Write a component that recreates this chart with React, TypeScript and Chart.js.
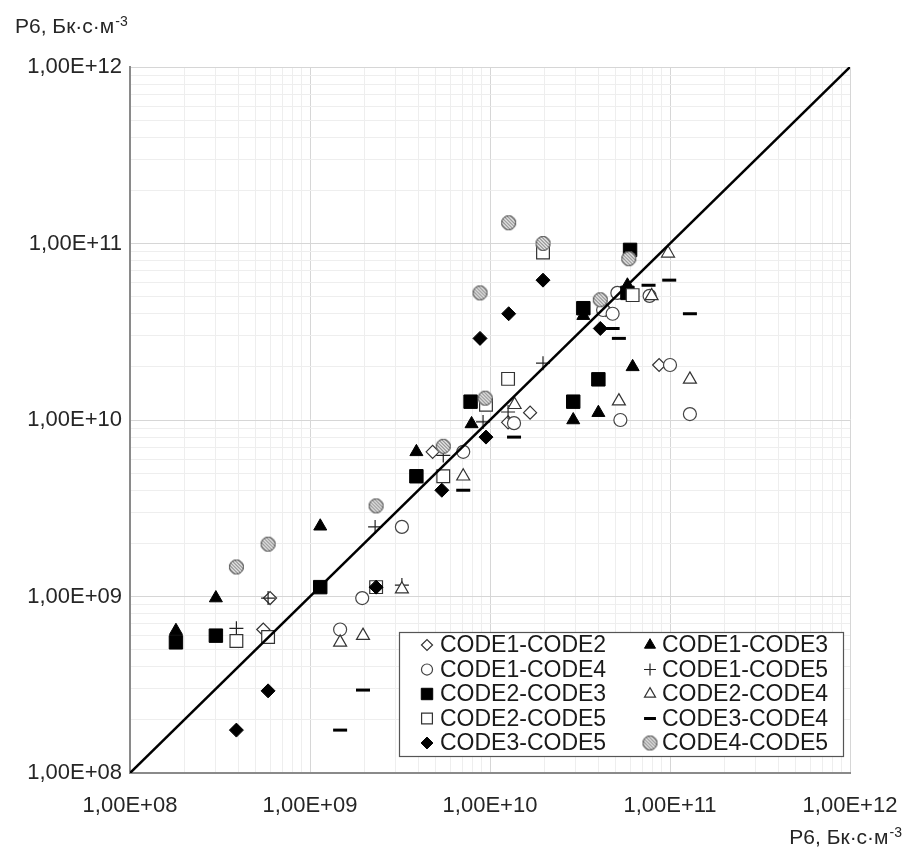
import React, { useEffect, useRef } from 'react';
import { Chart, registerables } from 'chart.js';
import { drawPoint } from 'chart.js/helpers';

Chart.register(...registerables);

// ---------- data ----------
const seriesNames = [
  'CODE1-CODE2', 'CODE1-CODE3',
  'CODE1-CODE4', 'CODE1-CODE5',
  'CODE2-CODE3', 'CODE2-CODE4',
  'CODE2-CODE5', 'CODE3-CODE4',
  'CODE3-CODE5', 'CODE4-CODE5',
];

const code1Code2: [number, number][] = [
  [6.0e8, 9.8e8], [5.5e8, 6.5e8], [4.8e9, 6.6e9], [1.26e10, 9.7e9],
  [1.67e10, 1.1e10], [8.7e10, 2.05e10], [4.4e10, 4.2e10],
];
const code1Code3: [number, number][] = [
  [1.8e8, 6.4e8], [3.0e8, 9.8e8], [1.14e9, 2.5e9], [3.9e9, 6.6e9],
  [7.9e9, 9.5e9], [2.9e10, 1.0e10], [4.0e10, 1.1e10], [6.2e10, 2.0e10],
  [3.3e10, 3.9e10], [5.8e10, 5.8e10],
];
const code1Code4: [number, number][] = [
  [3.24e9, 2.48e9], [1.95e9, 9.8e8], [1.47e9, 6.5e8], [7.1e9, 6.6e9],
  [1.36e10, 9.6e9], [5.3e10, 1.0e10], [1.0e11, 2.05e10], [1.29e11, 1.08e10],
  [4.25e10, 4.2e10], [4.8e10, 4.0e10], [5.1e10, 5.25e10], [7.7e10, 5.05e10],
];
const code1Code5: [number, number][] = [
  [3.9e8, 6.6e8], [5.85e8, 9.8e8], [2.3e9, 2.48e9], [3.24e9, 1.16e9],
  [5.5e9, 6.3e9], [9.15e9, 9.75e9], [1.26e10, 1.11e10], [1.97e10, 2.1e10],
];
const code2Code3: [number, number][] = [
  [1.8e8, 5.5e8], [3.0e8, 6.0e8], [1.14e9, 1.13e9], [3.9e9, 4.8e9],
  [7.8e9, 1.27e10], [2.9e10, 1.27e10], [4.0e10, 1.7e10], [3.3e10, 4.3e10],
  [5.8e10, 5.25e10], [6.0e10, 9.2e10],
];
const code2Code4: [number, number][] = [
  [1.47e9, 5.5e8], [1.97e9, 6.0e8], [3.24e9, 1.1e9], [7.1e9, 4.8e9],
  [1.37e10, 1.22e10], [5.2e10, 1.28e10], [1.29e11, 1.7e10], [9.75e10, 8.8e10],
  [7.9e10, 5.05e10],
];
const code2Code5: [number, number][] = [
  [3.9e8, 5.6e8], [5.85e8, 5.9e8], [2.33e9, 1.13e9], [5.5e9, 4.8e9],
  [9.5e9, 1.22e10], [1.26e10, 1.71e10], [1.97e10, 8.9e10], [6.2e10, 5.1e10],
];
const code3Code4: [number, number][] = [
  [1.97e9, 2.95e8], [1.47e9, 1.75e8], [7.1e9, 4.0e9], [1.36e10, 8.0e9],
  [4.8e10, 3.3e10], [5.2e10, 2.9e10], [7.6e10, 5.8e10], [9.9e10, 6.2e10],
  [1.29e11, 4.0e10],
];
const code3Code5: [number, number][] = [
  [5.85e8, 2.92e8], [3.9e8, 1.75e8], [2.33e9, 1.13e9], [5.4e9, 4.0e9],
  [9.5e9, 8.0e9], [8.8e9, 2.9e10], [1.27e10, 4.0e10], [1.97e10, 6.2e10],
  [4.1e10, 3.3e10],
];
const code4Code5: [number, number][] = [
  [3.9e8, 1.47e9], [5.85e8, 1.98e9], [2.33e9, 3.26e9], [5.5e9, 7.1e9],
  [9.4e9, 1.33e10], [8.8e9, 5.25e10], [1.27e10, 1.31e11], [1.97e10, 1.0e11],
  [4.1e10, 4.8e10], [5.9e10, 8.2e10],
];

const seriesData = [
  code1Code2, code1Code3, code1Code4, code1Code5, code2Code3,
  code2Code4, code2Code5, code3Code4, code3Code5, code4Code5,
];

const decades = [1e8, 1e9, 1e10, 1e11, 1e12];
const decadeLabels = ['1,00E+08', '1,00E+09', '1,00E+10', '1,00E+11', '1,00E+12'];
const minorMultipliers = [1, 2, 3, 4, 5, 6, 7, 8, 9];
const lineX = [1e8, 1e12];
const lineY = [1e8, 1e12];
const unitText = 'P6, Бк·с·м';
const unitSup = '-3';

const FONT = '"Liberation Sans", Arial, sans-serif';

function makeHatched(r: number): HTMLCanvasElement {
  const size = Math.ceil(r * 2 + 2);
  const c = document.createElement('canvas');
  c.width = size;
  c.height = size;
  const g = c.getContext('2d')!;
  const cx = size / 2;
  g.beginPath();
  g.arc(cx, cx, r, 0, Math.PI * 2);
  g.fillStyle = '#767676';
  g.fill();
  g.save();
  g.clip();
  g.strokeStyle = '#ffffff';
  g.lineWidth = 1.3;
  for (let k = -size; k < size * 2; k += 3.4) {
    g.beginPath();
    g.moveTo(k, 0);
    g.lineTo(k + size, size);
    g.stroke();
  }
  g.restore();
  g.beginPath();
  g.arc(cx, cx, r - 0.5, 0, Math.PI * 2);
  g.strokeStyle = '#4a4a4a';
  g.lineWidth = 1;
  g.stroke();
  return c;
}

function buildTicks() {
  const out: number[] = [];
  for (let i = 0; i < decades.length - 1; i++) {
    for (const m of minorMultipliers) out.push(decades[i] * m);
  }
  out.push(decades[decades.length - 1]);
  return out;
}

function isDecade(v: number) {
  return decades.some((d) => Math.abs(v - d) / d < 1e-9);
}

function labelFor(v: number) {
  const i = decades.findIndex((d) => Math.abs(v - d) / d < 1e-9);
  return i >= 0 ? decadeLabels[i] : '';
}

function drawUnit(ctx: CanvasRenderingContext2D, x: number, y: number, alignRight: boolean) {
  ctx.font = `21px ${FONT}`;
  const w1 = ctx.measureText(unitText).width;
  ctx.font = `14px ${FONT}`;
  const w2 = ctx.measureText(unitSup).width;
  const sx = alignRight ? x - w1 - w2 - 1 : x;
  ctx.fillStyle = '#262626';
  ctx.textAlign = 'left';
  ctx.textBaseline = 'alphabetic';
  ctx.font = `21px ${FONT}`;
  ctx.fillText(unitText, sx, y);
  ctx.font = `14px ${FONT}`;
  ctx.fillText(unitSup, sx + w1 + 1, y - 7);
}

export default function App() {
  const ref = useRef<HTMLCanvasElement>(null);

  useEffect(() => {
    if (!ref.current) return;
    const hatched = makeHatched(7.5);

    const styles: any[] = [
      { pointStyle: 'rectRot', pointRadius: 6.5, pointBackgroundColor: '#fff', pointBorderColor: '#333', pointBorderWidth: 1.2 },
      { pointStyle: 'triangle', pointRadius: 7.5, pointBackgroundColor: '#000', pointBorderColor: '#000', pointBorderWidth: 1 },
      { pointStyle: 'circle', pointRadius: 6.5, pointBackgroundColor: '#fff', pointBorderColor: '#444', pointBorderWidth: 1.2 },
      { pointStyle: 'cross', pointRadius: 7, pointBackgroundColor: '#000', pointBorderColor: '#222', pointBorderWidth: 1.2 },
      { pointStyle: 'rect', pointRadius: 9.5, pointBackgroundColor: '#000', pointBorderColor: '#000', pointBorderWidth: 1 },
      { pointStyle: 'triangle', pointRadius: 7.5, pointBackgroundColor: '#fff', pointBorderColor: '#333', pointBorderWidth: 1.2 },
      { pointStyle: 'rect', pointRadius: 9, pointBackgroundColor: '#fff', pointBorderColor: '#333', pointBorderWidth: 1.2 },
      { pointStyle: 'line', pointRadius: 7, pointBackgroundColor: '#000', pointBorderColor: '#000', pointBorderWidth: 3 },
      { pointStyle: 'rectRot', pointRadius: 7, pointBackgroundColor: '#000', pointBorderColor: '#000', pointBorderWidth: 1 },
      { pointStyle: hatched, pointRadius: 7.5, pointBackgroundColor: '#767676', pointBorderColor: '#4a4a4a', pointBorderWidth: 1 },
    ];

    const datasets: any[] = seriesNames.map((name, i) => ({
      label: name,
      data: seriesData[i].map(([x, y]) => ({ x, y })),
      showLine: false,
      order: -i,
      pointHoverRadius: styles[i].pointRadius,
      ...styles[i],
    }));

    datasets.push({
      label: 'y=x',
      data: lineX.map((x, i) => ({ x, y: lineY[i] })),
      showLine: true,
      borderColor: '#000',
      borderWidth: 2.5,
      pointRadius: 0,
      order: -100,
      fill: false,
    });

    const allTicks = buildTicks();

    const overlay = {
      id: 'overlay',
      afterDraw(chart: any) {
        const ctx: CanvasRenderingContext2D = chart.ctx;
        const a = chart.chartArea;
        ctx.save();
        // axis unit titles
        drawUnit(ctx, a.left - 115, a.top - 34, false);
        drawUnit(ctx, a.right + 52, a.bottom + 71, true);

        // legend box
        const bx = a.left + 269;
        const by = a.top + 565;
        const bw = 444;
        const bh = 124;
        ctx.fillStyle = '#fff';
        ctx.fillRect(bx, by, bw, bh);
        ctx.strokeStyle = '#555';
        ctx.lineWidth = 1.2;
        ctx.strokeRect(bx + 0.5, by + 0.5, bw, bh);

        const colMarkerX = [bx + 28, bx + 251];
        const colTextX = [bx + 41, bx + 263];
        const rowY0 = by + 13;
        const rowStep = 24.5;
        seriesNames.forEach((name, i) => {
          const col = i % 2;
          const row = Math.floor(i / 2);
          const y = rowY0 + row * rowStep;
          const st = styles[i];
          ctx.save();
          ctx.fillStyle = st.pointBackgroundColor;
          ctx.strokeStyle = st.pointBorderColor;
          ctx.lineWidth = st.pointBorderWidth;
          drawPoint(ctx, {
            pointStyle: st.pointStyle,
            radius: st.pointRadius * 0.85,
            rotation: 0,
            borderWidth: st.pointBorderWidth,
          } as any, colMarkerX[col], y);
          ctx.restore();
          ctx.fillStyle = '#1a1a1a';
          ctx.font = `23px ${FONT}`;
          ctx.textAlign = 'left';
          ctx.textBaseline = 'middle';
          ctx.fillText(name, colTextX[col], y + 1);
        });
        ctx.restore();
      },
    };

    const gridColor = (c: any) =>
      c.tick && isDecade(c.tick.value) ? '#d6d6d6' : '#eeeeee';

    const chart = new Chart(ref.current, {
      type: 'scatter',
      data: { datasets },
      options: {
        animation: false,
        responsive: false,
        maintainAspectRatio: false,
        devicePixelRatio: 1,
        layout: { padding: { left: 0, right: 59, top: 67, bottom: 28 } },
        plugins: {
          legend: { display: false },
          tooltip: { enabled: false },
          title: { display: false },
        },
        scales: {
          x: {
            type: 'logarithmic',
            min: 1e8,
            max: 1e12,
            afterBuildTicks: (scale: any) => {
              scale.ticks = allTicks.map((v) => ({ value: v, major: isDecade(v) }));
            },
            afterFit: (scale: any) => {
              scale.height = 50;
              scale.paddingLeft = 0;
              scale.paddingRight = 0;
            },
            ticks: {
              autoSkip: false,
              maxRotation: 0,
              minRotation: 0,
              padding: 20,
              color: '#262626',
              font: { family: FONT, size: 22 },
              callback: (v: any) => labelFor(Number(v)),
            },
            grid: { color: gridColor, lineWidth: 1, drawTicks: false },
            border: { display: true, color: '#8a8a8a', width: 2 },
          },
          y: {
            type: 'logarithmic',
            min: 1e8,
            max: 1e12,
            afterBuildTicks: (scale: any) => {
              scale.ticks = allTicks.map((v) => ({ value: v, major: isDecade(v) }));
            },
            afterFit: (scale: any) => {
              scale.width = 130;
              scale.paddingTop = 0;
              scale.paddingBottom = 0;
            },
            ticks: {
              autoSkip: false,
              padding: 8,
              color: '#262626',
              font: { family: FONT, size: 22 },
              callback: (v: any) => labelFor(Number(v)),
            },
            grid: { color: gridColor, lineWidth: 1, drawTicks: false },
            border: { display: true, color: '#8a8a8a', width: 2 },
          },
        },
      } as any,
      plugins: [overlay],
    });

    return () => chart.destroy();
  }, []);

  return (
    <div style={{ position: 'fixed', left: 0, top: 0, width: 909, height: 851, background: '#fff' }}>
      <canvas ref={ref} width={909} height={851} style={{ display: 'block', width: '909px', height: '851px' }} />
    </div>
  );
}
